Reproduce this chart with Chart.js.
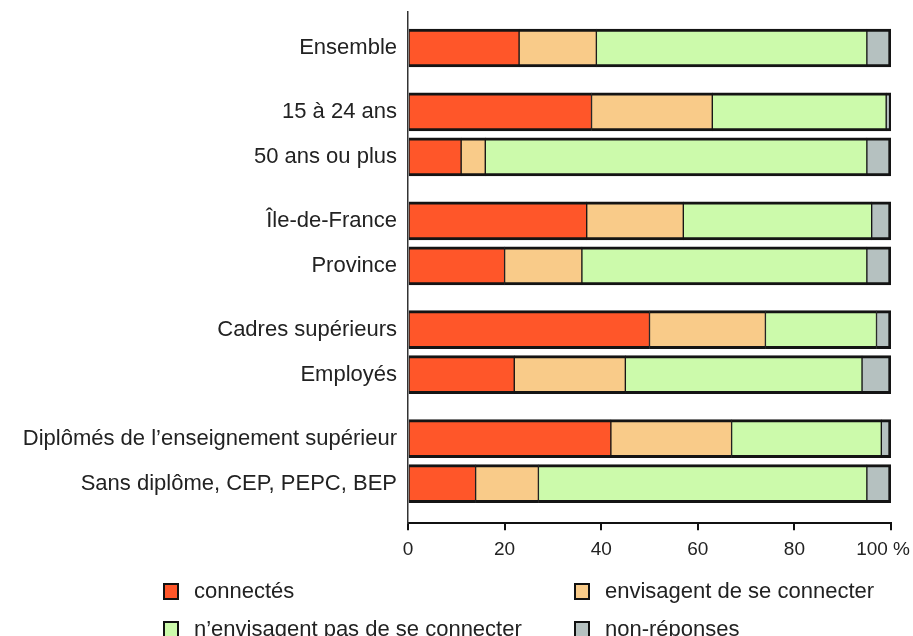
<!DOCTYPE html>
<html lang="fr">
<head>
<meta charset="utf-8">
<title>Connexion à Internet</title>
<script src="https://cdn.jsdelivr.net/npm/chart.js@4.4.1/dist/chart.umd.min.js"></script>
<style>
  html, body { margin: 0; padding: 0; background: #fff; }
  #wrap { position: relative; width: 913px; height: 636px; overflow: hidden; }
  #legend { position: absolute; left: 0; top: 0; font-family: "Liberation Sans", Arial, sans-serif; font-size: 22px; color: #222; }
  .item { position: absolute; display: flex; align-items: center; height: 26px; white-space: nowrap; }
  .box { width: 12px; height: 13px; border: 2px solid #111; margin-right: 15px; }
</style>
</head>
<body>
<div id="wrap">
  <canvas id="chart" width="913" height="636"></canvas>
  <div id="legend"></div>
</div>
<script>
// rows, grouped as in the original figure (a small gap between groups)
const groups = [
  ["Ensemble"],
  ["15 à 24 ans", "50 ans ou plus"],
  ["Île-de-France", "Province"],
  ["Cadres supérieurs", "Employés"],
  ["Diplômés de l’enseignement supérieur", "Sans diplôme, CEP, PEPC, BEP"],
];
const categories = groups.flat();

// shares in %
const connectes = [23, 38, 11, 37, 20, 50, 22, 42, 14];
const envisagent = [16, 25, 5, 20, 16, 24, 23, 25, 13];
const nEnvisagentPas = [56, 36, 79, 39, 59, 23, 49, 31, 68];
const nonReponses = [5, 1, 5, 4, 5, 3, 6, 2, 5];

const seriesNames = ["connectés", "envisagent de se connecter", "n’envisagent pas de se connecter", "non-réponses"];
const xTicks = [0, 20, 40, 60, 80, 100];
const xTickLabels = ["0", "20", "40", "60", "80", "100 %"];

const colors = ["#ff5629", "#f9cb89", "#ccfaab", "#b5c1c0"];
const GROUP_GAP = 0.42;

// row index on the y scale, with extra room between groups
const rowPos = [];
groups.forEach((g, gi) => {
  g.forEach(() => rowPos.push(rowPos.length + gi * GROUP_GAP));
});

const font = '"Liberation Sans", Arial, sans-serif';
const allSeries = [connectes, envisagent, nEnvisagentPas, nonReponses];

const datasets = allSeries.map((vals, si) => ({
  label: seriesNames[si],
  data: vals.map((v, i) => ({ x: v, y: rowPos[i] })),
  backgroundColor: colors[si],
  borderColor: "#141414",
  borderWidth: { top: 3, bottom: 3, left: 1, right: si === allSeries.length - 1 ? 3 : 1 },
  borderSkipped: false,
  barThickness: 38,
}));

const chart = new Chart(document.getElementById("chart"), {
  type: "bar",
  data: { datasets },
  options: {
    indexAxis: "y",
    responsive: false,
    animation: false,
    devicePixelRatio: 1,
    layout: { padding: { top: 12, bottom: 67, left: 0, right: 0 } },
    plugins: { legend: { display: false }, tooltip: { enabled: false } },
    scales: {
      x: {
        stacked: true,
        min: 0,
        max: 100,
        afterBuildTicks: (s) => { s.ticks = xTicks.map((v) => ({ value: v })); },
        afterFit: (s) => { s.paddingRight = 22; s.paddingLeft = 0; },
        ticks: {
          callback: (v, i) => (i === xTickLabels.length - 1 ? xTickLabels[i] + "   " : xTickLabels[i]),
          font: { family: font, size: 19 },
          color: "#222",
          padding: 8,
          maxRotation: 0,
        },
        grid: { display: true, drawOnChartArea: false, drawTicks: true, tickLength: 7, color: "#111", lineWidth: 2 },
        border: { display: true, color: "#111", width: 2 },
      },
      y: {
        type: "linear",
        stacked: true,
        reverse: true,
        offset: false,
        min: -0.8,
        max: 10.56,
        afterBuildTicks: (s) => { s.ticks = rowPos.map((v) => ({ value: v })); },
        afterFit: (s) => { s.width = 408; s.paddingTop = 0; s.paddingBottom = 0; },
        ticks: {
          autoSkip: false,
          callback: (v, i) => categories[i],
          font: { family: font, size: 22 },
          color: "#222",
          padding: 11,
        },
        grid: { display: false, drawTicks: false, offset: false },
        border: { display: true, color: "#333", width: 1.5 },
      },
    },
  },
});

// legend in two columns under the chart
const legendEl = document.getElementById("legend");
const legendCols = [163, 574];
const legendRows = [591, 629];
chart.data.datasets.forEach((ds, i) => {
  const item = document.createElement("div");
  item.className = "item";
  item.style.left = legendCols[i % 2] + "px";
  item.style.top = legendRows[Math.floor(i / 2)] - 13 + "px";
  item.innerHTML = `<span class="box" style="background:${ds.backgroundColor}"></span><span>${ds.label}</span>`;
  legendEl.appendChild(item);
});
</script>
</body>
</html>
